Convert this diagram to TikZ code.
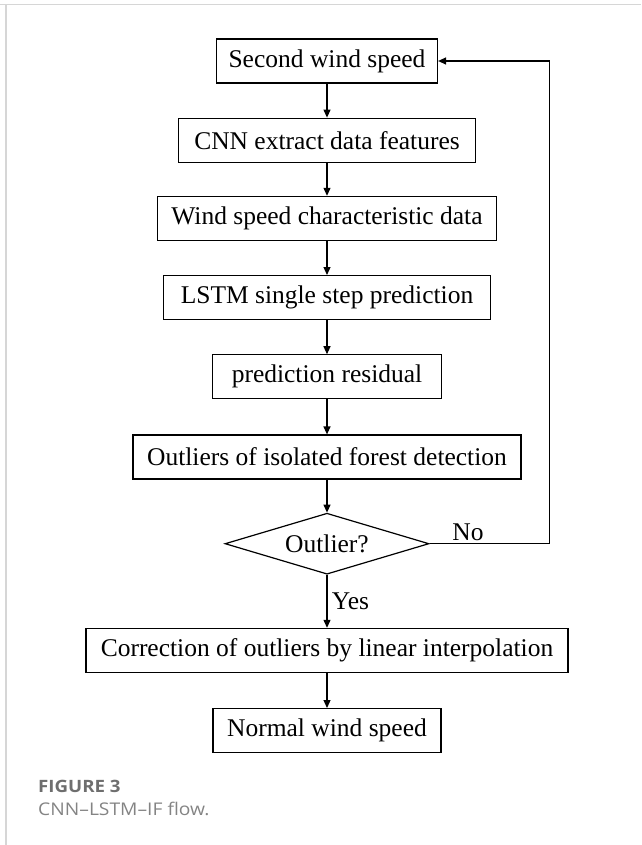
\documentclass[tikz,border=0pt]{standalone}
\usepackage{fontspec}
\setmainfont{Liberation Serif}
\newfontfamily\capfont[FakeStretch=1.1]{Open Sans}
\usetikzlibrary{positioning,shapes.geometric,arrows.meta}
\definecolor{framegray}{HTML}{D6D6D6}
\definecolor{capgray}{HTML}{6E6E6E}
\tikzset{
  box/.style={draw, line width=1.2pt, minimum height=44pt, inner sep=0pt, font=\fontsize{25.5}{28}\selectfont},
  decide/.style={draw, diamond, aspect=3.34, line width=1.2pt, minimum width=204pt, minimum height=61pt, inner sep=0pt, font=\fontsize{25.5}{28}\selectfont},
  flow/.style={line width=1.2pt, -{Triangle[length=8pt,width=7pt]}},
  lbl/.style={font=\fontsize{25.5}{28}\selectfont}
}
\begin{document}
\begin{tikzpicture}[x=1pt,y=-1pt]
\useasboundingbox (0,0) rectangle (641,845);
\draw[framegray,line width=1.5pt] (0,4.5) -- (641,4.5);
\draw[framegray,line width=1.5pt] (6,4.5) -- (6,845);
\node[box,minimum width=221pt] (second) at (327,61) {Second wind speed};
\node[box,minimum width=297pt,below=34pt of second] (cnn) {CNN extract data features};
\node[box,minimum width=339pt,below=33pt of cnn] (feat) {Wind speed characteristic data};
\node[box,minimum width=327pt,below=34pt of feat] (lstm) {LSTM single step prediction};
\node[box,minimum width=229pt,below=34pt of lstm] (resid) {prediction residual};
\node[box,minimum width=388pt,below=35pt of resid] (iforest) {Outliers of isolated forest detection};
\node[decide,below=33pt of iforest] (isout) {Outlier?};
\node[box,minimum width=482pt,below=53pt of isout] (interp) {Correction of outliers by linear interpolation};
\node[box,minimum width=228pt,below=35pt of interp] (normal) {Normal wind speed};
\draw[flow] (second) -- (cnn);
\draw[flow] (cnn) -- (feat);
\draw[flow] (feat) -- (lstm);
\draw[flow] (lstm) -- (resid);
\draw[flow] (resid) -- (iforest);
\draw[flow] (iforest) -- (isout);
\draw[flow] (isout) -- node[lbl,right,xshift=1pt] {Yes} (interp);
\draw[flow] (interp) -- (normal);
\draw[flow] (isout.east) -- node[lbl,above,pos=0.32,inner sep=2pt] {No} ++(120,0) |- (second.east);
\node[anchor=base west,inner sep=0pt,text=capgray,font=\capfont\bfseries\fontsize{17}{20}\selectfont] (fig) at (38,792) {FIGURE 3};
\node[anchor=base west,inner sep=0pt,text=capgray!85,font=\capfont\fontsize{17.5}{20}\selectfont] (cap) at (38,815) {CNN–LSTM–IF flow.};
\end{tikzpicture}
\end{document}
